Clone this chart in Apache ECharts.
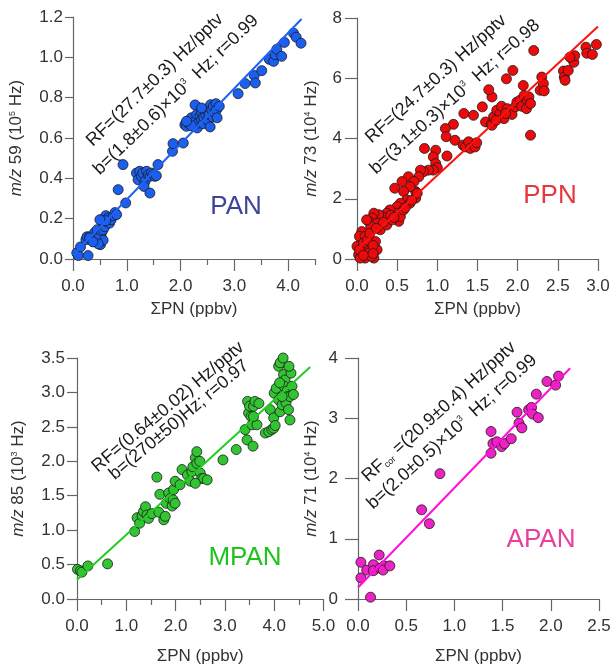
<!DOCTYPE html>
<html>
<head>
<meta charset="utf-8">
<script src="https://cdn.jsdelivr.net/npm/echarts@6/dist/echarts.min.js"></script>
<style>html,body{margin:0;padding:0;background:#fff;}#c{width:614px;height:671px;}</style>
</head>
<body>
<div id="c"></div>
<script>
// ---------- DATA ----------
const panPoints = [
 [0.07,0.03],[0.10,0.017],[0.14,0.06],[0.28,0.017],[0.24,0.096],[0.26,0.11],[0.31,0.11],[0.34,0.096],
 [0.37,0.088],[0.40,0.13],[0.43,0.11],[0.45,0.145],[0.50,0.088],[0.51,0.071],[0.53,0.104],[0.53,0.13],
 [0.56,0.093],[0.56,0.145],[0.59,0.16],[0.62,0.187],[0.61,0.215],[0.65,0.203],[0.68,0.178],[0.71,0.195],
 [0.75,0.215],[0.78,0.23],[0.81,0.22],[0.43,0.10],[0.47,0.075],[0.31,0.105],[0.37,0.085],[0.61,0.19],[0.50,0.195],
 [0.84,0.344],[0.93,0.468],[0.98,0.278],[1.18,0.426],[1.21,0.393],[1.24,0.435],[1.27,0.41],[1.30,0.426],
 [1.34,0.385],[1.32,0.36],[1.37,0.435],[1.40,0.418],[1.43,0.327],[1.43,0.41],[1.46,0.426],[1.49,0.418],
 [1.52,0.41],[1.55,0.413],[1.58,0.468],[1.85,0.534],[1.86,0.572],[2.05,0.575],[2.08,0.666],
 [2.11,0.658],[2.14,0.674],[2.17,0.688],[2.20,0.70],[2.24,0.658],[2.27,0.764],[2.27,0.683],[2.30,0.716],
 [2.31,0.65],[2.33,0.674],[2.36,0.707],[2.39,0.727],[2.39,0.69],[2.42,0.671],[2.43,0.704],[2.47,0.716],
 [2.48,0.74],[2.50,0.688],[2.52,0.749],[2.53,0.716],[2.55,0.655],[2.56,0.765],[2.58,0.74],[2.60,0.704],
 [2.61,0.757],[2.64,0.724],[2.66,0.77],[2.67,0.74],[2.68,0.70],[2.72,0.757],[2.39,0.749],[2.20,0.661],[2.11,0.683],
 [3.07,0.82],[3.20,0.87],[3.37,0.91],[3.39,0.873],[3.51,0.934],[3.65,0.99],[3.73,0.98],[3.76,1.013],
 [3.79,1.04],[3.88,1.005],[3.93,1.074],[4.10,1.12],[4.15,1.10],[4.24,1.07]
];
const panFit = [[0,0.02],[4.25,1.19]];

const ppnPoints = [
 [2.20,6.92],[2.85,7.03],[2.86,6.83],[2.93,6.79],[2.98,7.12],[2.68,6.64],[2.70,6.53],[2.71,6.75],[2.65,6.70],
 [2.57,6.24],[2.58,6.04],[2.59,5.93],[2.63,6.26],[2.30,6.04],[2.28,5.60],[2.32,5.82],[2.33,5.58],[2.16,4.11],
 [2.07,5.76],[1.94,6.26],[1.86,5.98],[1.68,5.38],[1.64,5.62],[1.56,5.05],[1.45,4.77],[1.33,4.83],[1.20,4.47],
 [1.10,4.33],[1.11,4.06],[1.12,3.42],[1.22,3.94],[0.98,3.61],[0.84,3.67],[0.95,3.39],[0.98,3.17],[1.00,3.03],
 [0.95,2.95],[0.89,2.95],[0.83,2.90],[0.79,2.95],[0.77,2.73],[0.64,2.73],[0.56,2.57],[0.47,2.35],[0.71,2.57],
 [0.73,2.24],[0.66,2.40],[0.58,2.24],[0.62,1.96],[0.54,1.85],[0.50,1.74],[0.48,1.52],[0.41,1.63],[0.37,1.52],
 [0.35,1.30],[0.31,1.41],[0.27,1.47],[0.21,1.52],[0.19,1.36],[0.15,1.25],[0.25,1.19],[0.52,1.25],[0.17,1.08],
 [0.06,0.91],[0.03,0.75],[0.00,0.42],[0.02,0.14],[0.06,0.09],[0.10,0.03],[0.21,0.03],[0.25,0.31],[0.23,0.58],
 [0.12,0.36],[0.10,0.75],[0.08,0.53],[0.15,0.20],[0.04,0.03],[0.18,0.09],[0.29,0.97],[0.37,1.13],[0.44,1.30],
 [0.54,1.41],[0.58,1.63],[0.66,1.85],[0.73,2.02],[0.75,2.18],[0.13,0.62],[0.20,0.45],[0.03,0.30],[0.16,0.85],
 [0.24,1.02],[0.33,1.22],[0.42,1.45],[0.46,1.38],[0.60,1.70],[0.68,1.95],[0.12,1.30],[0.08,0.12],[0.20,0.18],
 [1.32,3.78],[1.35,3.72],[1.39,3.89],[1.41,3.67],[1.47,3.72],[1.49,3.86],[1.60,4.55],[1.67,4.47],[1.70,4.72],
 [1.74,4.94],[1.78,4.83],[1.80,5.07],[1.83,4.66],[1.87,4.99],[1.93,4.80],[1.97,5.05],[1.99,5.21],[2.03,5.27],
 [2.05,5.07],[2.08,5.43],[2.12,5.27],[2.11,4.99],[2.14,5.38],[2.16,5.16],[1.68,4.44],[1.73,4.60],[1.85,4.83]
];
const ppnFit = [[0,0.31],[3.0,7.72]];

const mpanPoints = [
 [0.01,0.43],[0.07,0.41],[0.10,0.39],[0.22,0.48],[0.62,0.51],[1.17,0.98],[1.22,1.18],[1.27,1.10],[1.32,1.21],
 [1.35,1.27],[1.39,1.34],[1.42,1.22],[1.45,1.17],[1.52,1.24],[1.66,1.26],[1.62,1.77],[1.68,1.52],[1.76,1.15],
 [1.79,1.20],[1.81,1.39],[1.86,1.54],[1.89,1.46],[1.93,1.35],[1.96,1.59],[1.95,1.44],[1.99,1.71],[1.99,1.39],
 [2.13,1.88],[2.09,1.66],[2.24,1.80],[2.30,1.71],[2.33,1.85],[2.35,1.92],[2.40,2.05],[2.43,2.14],[2.43,1.97],
 [2.49,2.00],[2.50,1.83],[2.53,1.75],[2.57,1.75],[2.40,1.68],[2.64,1.73],[2.96,2.02],[3.23,2.17],[3.41,2.46],
 [3.45,2.31],[3.46,2.87],[3.48,2.70],[3.50,2.80],[3.53,2.65],[3.55,2.53],[3.58,2.80],[3.57,2.22],[3.61,2.87],
 [3.65,2.53],[3.69,2.84],[3.58,2.65],[3.82,2.41],[3.89,2.43],[3.95,2.46],[3.99,2.48],[3.92,2.75],[3.99,2.63],
 [4.02,2.52],[4.00,2.99],[4.04,3.06],[4.09,2.89],[4.12,2.72],[4.16,2.82],[4.09,3.38],[4.12,3.43],[4.18,3.50],
 [4.19,3.26],[4.22,3.18],[4.20,3.09],[4.26,3.02],[4.27,2.94],[4.24,2.85],[4.29,2.75],[4.32,2.94],[4.34,3.28],
 [4.32,2.60],[4.30,3.38],[4.36,3.09],[4.39,2.97],[4.16,2.94],[4.11,3.14]
];
const mpanFit = [[0,0.28],[4.73,3.37]];

const apanPoints = [
 [0.03,0.61],[0.03,0.35],[0.09,0.48],[0.13,0.03],[0.16,0.57],[0.16,0.47],[0.22,0.73],[0.23,0.51],[0.27,0.55],
 [0.26,0.48],[0.33,0.55],[0.66,1.48],[0.74,1.25],[0.85,2.08],[1.38,2.78],[1.38,2.42],[1.40,2.58],[1.44,2.61],
 [1.49,2.53],[1.52,2.58],[1.59,2.66],[1.65,3.10],[1.67,2.92],[1.70,2.84],[1.77,3.14],[1.80,3.18],[1.81,3.07],
 [1.85,3.40],[1.87,3.01],[1.96,3.61],[2.05,3.55],[2.08,3.70]
];
const apanFit = [[0,0.19],[2.2,3.83]];

// tick values
const panXMajor = [0,1,2,3,4], panXMinor = [0.5,1.5,2.5,3.5,4.5];
const ppnXMajor = [0,0.5,1,1.5,2,2.5,3];
const mpanXMajor = [0,1,2,3,4,5], mpanXMinor = [0.5,1.5,2.5,3.5,4.5];
const apanXMajor = [0,0.5,1,1.5,2,2.5];

// ---------- CHART ----------
const FF = '"Liberation Sans", Arial, sans-serif';
const AX = '#666', TX = '#333';
const grids = [
  {left:73, top:17, width:242, height:242},
  {left:357, top:18, width:241, height:241},
  {left:77, top:358, width:246.5, height:241},
  {left:358, top:358, width:241, height:241}
];
function xMain(g, max, ticks, digits, gap){
  return {type:'value', gridIndex:g, min:0, max:max, position:'bottom',
    axisLine:{show:true, onZero:false, lineStyle:{color:AX, width:1.2}},
    axisTick:{show:true, inside:false, length:12, customValues:ticks, lineStyle:{color:AX, width:1.2}},
    axisLabel:{customValues:ticks, formatter:v=>Number(v).toFixed(digits), margin:19, fontSize:17, color:TX, fontFamily:FF},
    splitLine:{show:false},
    name:'ΣPN (ppbv)', nameLocation:'middle', nameGap:gap,
    nameTextStyle:{fontSize:17, color:TX, fontFamily:FF}};
}
function xMinor(g, max, ticks){
  return {type:'value', gridIndex:g, min:0, max:max, position:'bottom',
    axisLine:{show:false}, axisLabel:{show:false}, splitLine:{show:false},
    axisTick:{show:true, inside:false, length:6, customValues:ticks, lineStyle:{color:AX, width:1.2}}};
}
function yAx(g, max, interval, digits, name, gap, tickLen, margin){
  return {type:'value', gridIndex:g, min:0, max:max, interval:interval,
    axisLine:{show:true, onZero:false, lineStyle:{color:AX, width:1.2}},
    axisTick:{show:true, inside:false, length:tickLen, lineStyle:{color:AX, width:1.2}},
    axisLabel:{formatter:v=>Number(v).toFixed(digits), margin:margin, fontSize:17, color:TX, fontFamily:FF},
    splitLine:{show:false},
    name:name, nameLocation:'middle', nameGap:gap, nameRotate:90,
    nameTextStyle:{fontSize:17, color:TX, fontFamily:FF,
      rich:{i:{fontStyle:'italic', fontSize:17, color:TX, fontFamily:FF},
            s:{fontSize:9, color:TX, fontFamily:FF, verticalAlign:'top'}}}};
}
const xAxes = [
  xMain(0,4.5,panXMajor,1,42), xMain(1,3,ppnXMajor,1,42), xMain(2,5,mpanXMajor,1,49), xMain(3,2.5,apanXMajor,1,49),
  xMinor(0,4.5,panXMinor), xMinor(2,5,mpanXMinor)
];
const yAxes = [
  yAx(0,1.2,0.2,1,'{i|m/z} 59 (10{s|5} Hz)',48,8,10),
  yAx(1,8,2,0,'{i|m/z} 73 (10{s|4} Hz)',37,12,15),
  yAx(2,3.5,0.5,1,'{i|m/z} 85 (10{s|3} Hz)',50,10,12),
  yAx(3,4,1,0,'{i|m/z} 71 (10{s|4} Hz)',38,13,20)
];
function sc(i, data, fill){
  return {type:'scatter', xAxisIndex:i, yAxisIndex:i, data:data, symbol:'circle', symbolSize:10,
    itemStyle:{color:fill, borderColor:'#1a1a1a', borderWidth:0.8, opacity:1}, z:2, emphasis:{disabled:true}};
}
function fit(i, data, color){
  return {type:'line', xAxisIndex:i, yAxisIndex:i, data:data, showSymbol:false, symbol:'none',
    lineStyle:{color:color, width:2}, z:3, silent:true};
}
function ann(x, y, deg, text){
  return {type:'text', x:x, y:y, rotation:deg*Math.PI/180, z:10,
    style:{text:text, fill:'#1a1a1a', fontSize:18, fontFamily:FF, align:'center', verticalAlign:'middle',
      rich:{s:{fontSize:9, fontFamily:FF, fill:'#1a1a1a', verticalAlign:'top'},
            d:{fontSize:9, fontFamily:FF, fill:'#1a1a1a', verticalAlign:'bottom'}}}};
}
function lab(x, y, text, color){
  return {type:'text', x:x, y:y, z:10,
    style:{text:text, fill:color, fontSize:26, fontFamily:FF, align:'center', verticalAlign:'middle'}};
}
const option = {
  animation:false,
  backgroundColor:'#fff',
  grid:grids,
  xAxis:xAxes,
  yAxis:yAxes,
  series:[
    sc(0,panPoints,'#1b5ff0'), sc(1,ppnPoints,'#ee0a0a'), sc(2,mpanPoints,'#33c433'), sc(3,apanPoints,'#ec22c4'),
    fit(0,panFit,'#1d63f7'), fit(1,ppnFit,'#ff1010'), fit(2,mpanFit,'#22cc22'), fit(3,apanFit,'#ff10d8')
  ],
  graphic:[
    ann(155,80,44,'RF=(27.7±0.3) Hz/pptv'),
    ann(176,95,44,'b=(1.8±0.6)×10{s|3}  Hz; r=0.99'),
    ann(436,79,42,'RF=(24.7±0.3) Hz/pptv'),
    ann(455,97,42,'b=(3.1±0.3)×10{s|3}  Hz; r=0.98'),
    ann(168,407,40,'RF=(0.64±0.02) Hz/pptv'),
    ann(179,420,40,'b=(270±50)Hz; r=0.97'),
    ann(439,412,42,'RF{d|cor} =(20.9±0.4) Hz/pptv'),
    ann(452,432,42,'b=(2.0±0.5)×10{s|3}  Hz; r=0.99'),
    lab(236,207,'PAN','#3d4399'),
    lab(550,196,'PPN','#e8363d'),
    lab(245,558,'MPAN','#1ec31e'),
    lab(541,540,'APAN','#e8409c')
  ]
};
const chart = echarts.init(document.getElementById('c'), null, {renderer:'canvas'});
chart.setOption(option);
</script>
</body>
</html>
